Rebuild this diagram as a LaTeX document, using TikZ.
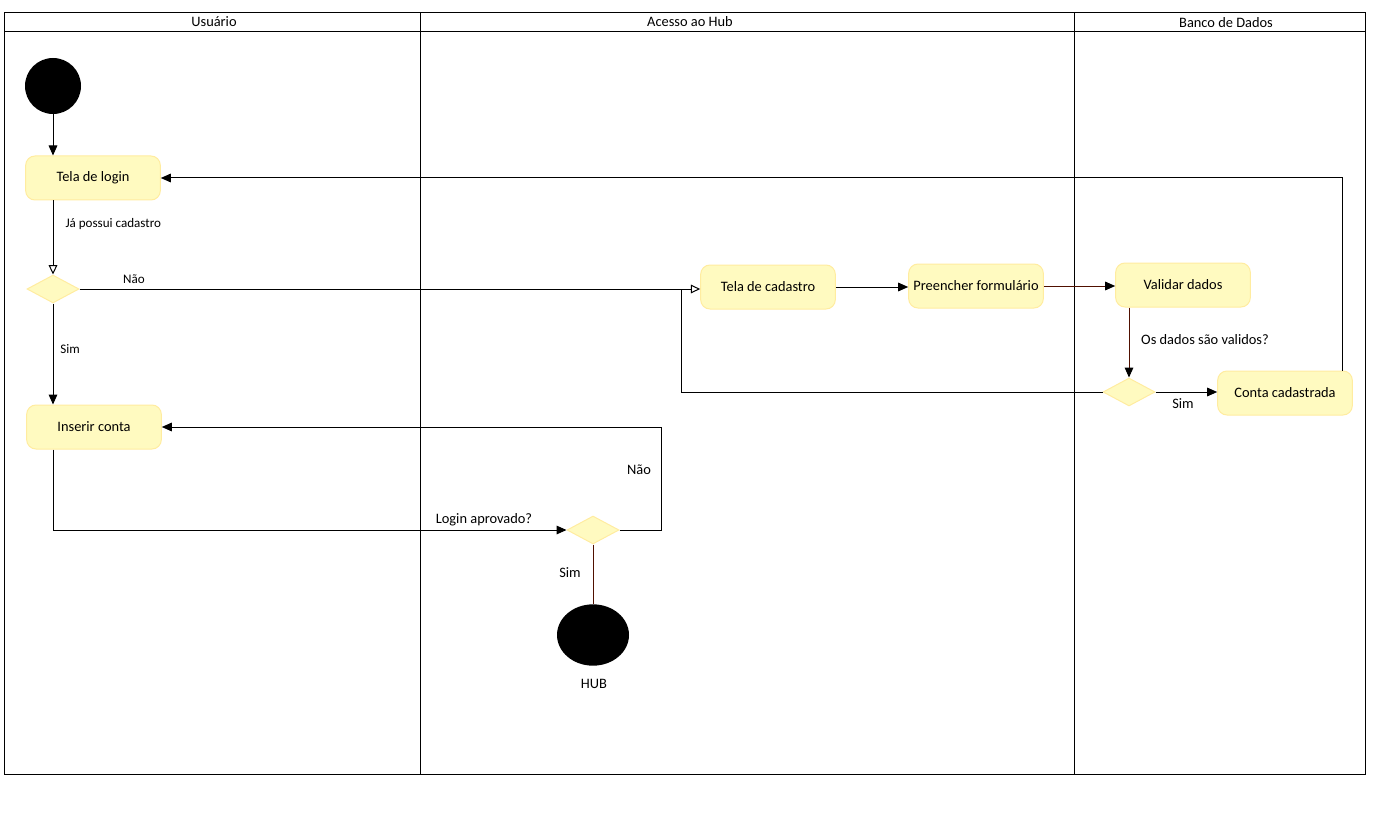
\documentclass[tikz,border=0pt]{standalone}
\usepackage{fontspec}
\setmainfont{Carlito}
\usetikzlibrary{shapes.geometric,arrows.meta}

\definecolor{fundoAcao}{RGB}{255,250,192}
\definecolor{bordaAcao}{RGB}{255,236,160}
\definecolor{marrom}{RGB}{80,16,0}

\tikzset{
  acao/.style={draw=bordaAcao,fill=fundoAcao,rounded corners=7pt,minimum width=101pt,minimum height=33pt,inner sep=0pt,font=\fontsize{10.8}{12}\selectfont},
  decisao/.style={diamond,draw=bordaAcao,fill=fundoAcao,minimum width=39pt,minimum height=21pt,inner sep=0pt},
  seta/.style={-{Triangle[length=7.5pt,width=6.5pt,color=black]}},
  setaAberta/.style={-{Triangle[open,length=7pt,width=6.5pt]}},
  rotulo/.style={inner sep=0.75pt,font=\fontsize{10.8}{12}\selectfont},
  rotuloMenor/.style={inner sep=0.75pt,font=\fontsize{9.8}{11}\selectfont}
}

\begin{document}
\begin{tikzpicture}[x=0.75pt,y=0.75pt,yscale=-1,xscale=1,line width=0.75pt]
\useasboundingbox (0,0) rectangle (1381,831);

%Raias
\draw (4,13) rectangle (1365,774);
\draw (4,32) -- (1365,32);
\draw (420,13) -- (420,774);
\draw (1074,13) -- (1074,774);
\node[rotulo] (raiaUsuario) at (214,22) {Usuário};
\node[rotulo] (raiaHub) at (690,22) {Acesso ao Hub};
\node[rotulo] (raiaBanco) at (1226,23) {Banco de Dados};

%Inicio e fim
\node[circle,fill=black,minimum size=42pt,inner sep=0pt] (inicio) at (53,86) {};
\node[ellipse,fill=black,minimum width=54pt,minimum height=46pt,inner sep=0pt] (hub) at (593,635) {};
\node[rotulo] (hubTexto) at (594,684) {HUB};

%Acoes
\node[acao] (login) at (93,178) {Tela de login};
\node[acao] (inserir) at (94,427) {Inserir conta};
\node[acao] (cadastro) at (768,287) {Tela de cadastro};
\node[acao] (formulario) at (976,286) {Preencher formulário};
\node[acao] (validar) at (1183,285) {Validar dados};
\node[acao] (conta) at (1285,393) {Conta cadastrada};

%Decisoes
\node[decisao] (temCadastro) at (53,289) {};
\node[decisao] (dadosValidos) at (1129,392) {};
\node[decisao] (loginAprovado) at (593,530) {};

%Pontos de dobra
\coordinate (juncao) at (681,289);
\coordinate (retorno) at (1342,178);
\coordinate (volta) at (661,427);

%Ligacoes
\draw[seta] (inicio) -- (login.north -| inicio);
\draw[setaAberta] (login.south -| inicio) -- (temCadastro.north);
\draw[setaAberta] (temCadastro.east) -- (cadastro.west |- temCadastro.east);
\draw[seta] (temCadastro.south) -- (inserir.north -| temCadastro);
\draw[seta] (cadastro.east) -- (formulario.west |- cadastro.east);
\draw[seta,draw=marrom] (formulario.east) -- (validar.west |- formulario.east);
\draw[seta,draw=marrom] (validar.south -| dadosValidos) -- (dadosValidos.north);
\draw (dadosValidos.west) -| (juncao);
\draw[seta] (dadosValidos.east) -- (conta.west |- dadosValidos.east);
\draw[seta] (conta.north -| retorno) -- (retorno) -- (login.east);
\draw[seta] (inserir.south -| inicio) |- (loginAprovado.west);
\draw[seta] (loginAprovado.east) -| (volta) -- (inserir.east);
\draw[draw=marrom] (loginAprovado.south) -- (hub.north);

% Text Node
\node[rotuloMenor,anchor=west] (lblCadastro) at (64,224) {Já possui cadastro};
\node[rotuloMenor] (lblNao1) at (134,279) {Não};
\node[rotuloMenor] (lblSim1) at (70,349) {Sim};
\node[rotulo] (lblValidos) at (1205,340) {Os dados são validos?};
\node[rotulo] (lblSim2) at (1183,404) {Sim};
\node[rotulo] (lblAprovado) at (484,520) {Login aprovado?};
\node[rotulo] (lblNao2) at (639,470) {Não};
\node[rotulo] (lblSim3) at (570,573) {Sim};

\end{tikzpicture}
\end{document}
